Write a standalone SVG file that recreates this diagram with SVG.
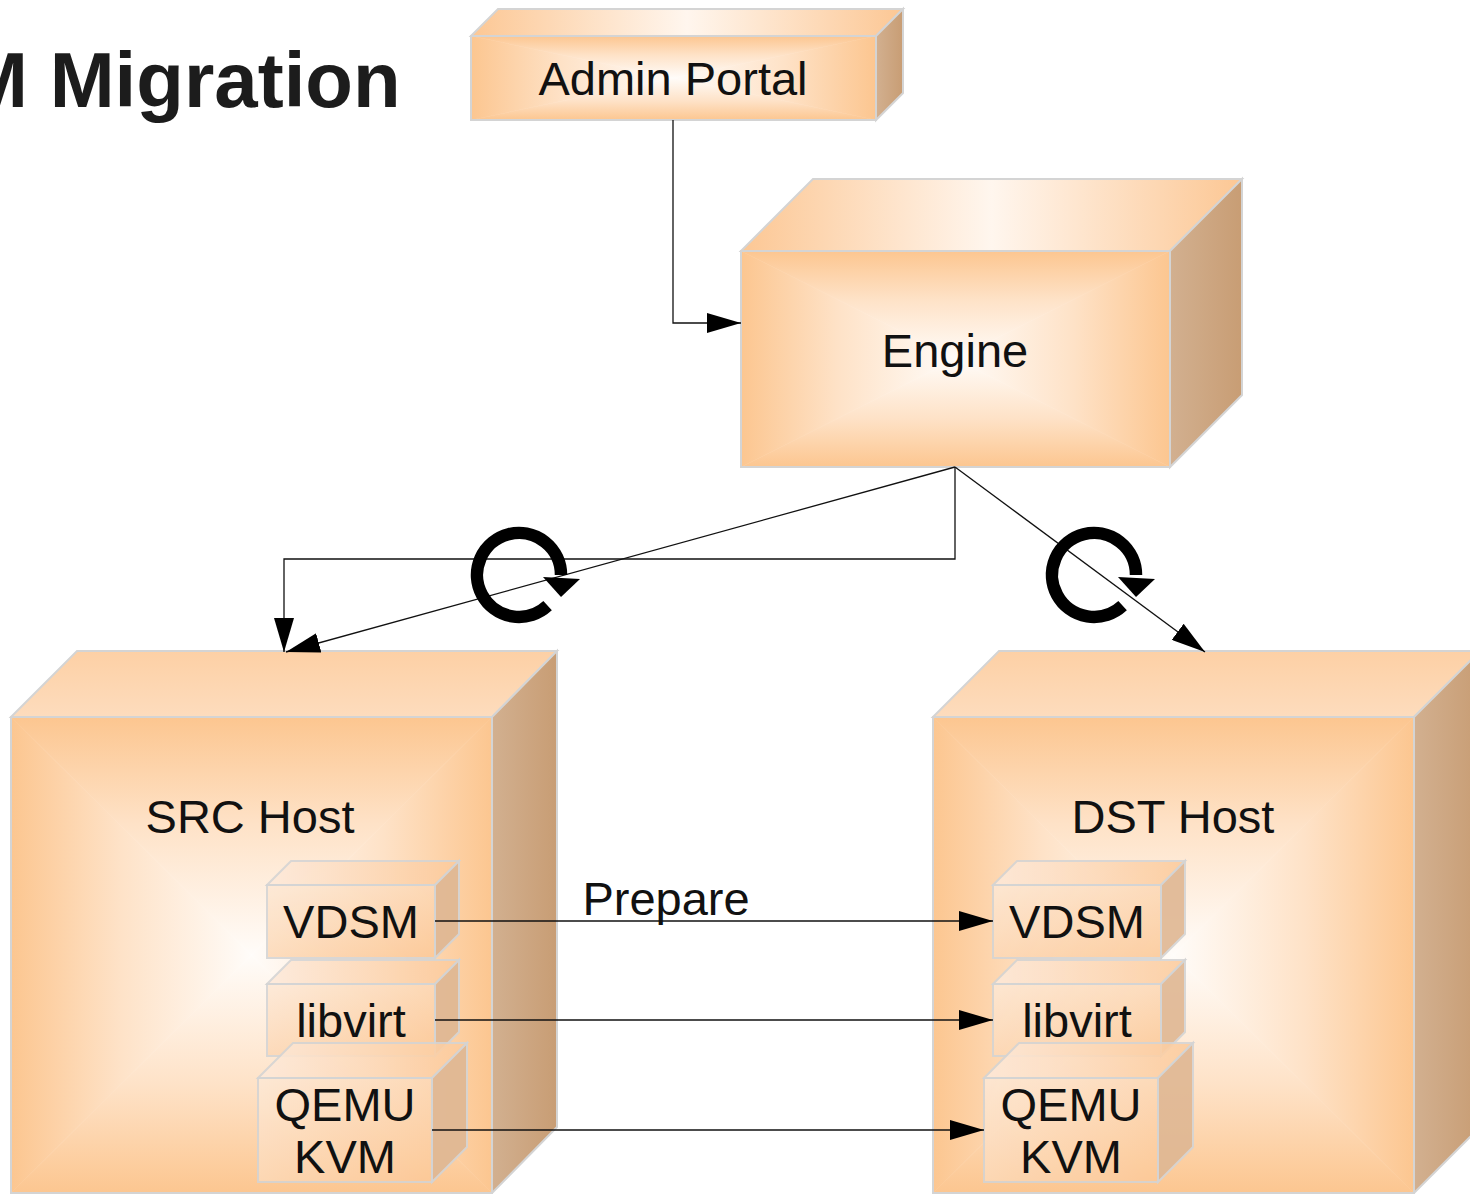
<svg xmlns="http://www.w3.org/2000/svg" width="1470" height="1194" viewBox="0 0 1470 1194">
<style>
.edge{stroke:#d4d4d4;stroke-width:2;stroke-linejoin:miter}
.side{fill:url(#gSide)}
.top{fill:url(#gTop)}
.top2{fill:url(#gTop2)}
.tl{fill:url(#gL);stroke:url(#gL);stroke-width:0.6}
.tr{fill:url(#gR);stroke:url(#gR);stroke-width:0.6}
.tt{fill:url(#gT);stroke:url(#gT);stroke-width:0.6}
.tb{fill:url(#gB);stroke:url(#gB);stroke-width:0.6}
.sfront{fill:url(#gSF);opacity:0.88}
.stop{fill:url(#gST);opacity:0.88}
.sside{fill:#dfb793;opacity:0.9}
.lbl{font-family:"Liberation Sans",Arial,sans-serif;font-size:47px;fill:#111;text-anchor:middle}
.title{font-family:"Liberation Sans",Arial,sans-serif;font-size:78px;font-weight:bold;fill:#1c1c1c}
.con{fill:none;stroke:#111;stroke-width:1.3}
</style>
<defs>
<linearGradient id="gL" x1="0" y1="0" x2="1" y2="0"><stop offset="0" stop-color="#fcc690"/><stop offset="0.45" stop-color="#fee2c7"/><stop offset="1" stop-color="#fffcf9"/></linearGradient>
<linearGradient id="gR" x1="0" y1="0" x2="1" y2="0"><stop offset="0" stop-color="#fffcf9"/><stop offset="0.55" stop-color="#fee2c7"/><stop offset="1" stop-color="#fcc690"/></linearGradient>
<linearGradient id="gT" x1="0" y1="0" x2="0" y2="1"><stop offset="0" stop-color="#fcc690"/><stop offset="0.45" stop-color="#fee2c7"/><stop offset="1" stop-color="#fffcf9"/></linearGradient>
<linearGradient id="gB" x1="0" y1="0" x2="0" y2="1"><stop offset="0" stop-color="#fffcf9"/><stop offset="0.55" stop-color="#fee2c7"/><stop offset="1" stop-color="#fcc690"/></linearGradient>
<linearGradient id="gSide" x1="0" y1="0" x2="1" y2="0">
<stop offset="0" stop-color="#d2b090"/>
<stop offset="1" stop-color="#c89d74"/>
</linearGradient>
<linearGradient id="gTop" x1="0" y1="0" x2="1" y2="0">
<stop offset="0" stop-color="#fcc794"/>
<stop offset="0.5" stop-color="#fff6ee"/>
<stop offset="1" stop-color="#fcc794"/>
</linearGradient>
<linearGradient id="gTop2" x1="0" y1="0" x2="0" y2="1">
<stop offset="0" stop-color="#fdd0a5"/>
<stop offset="1" stop-color="#fddcbd"/>
</linearGradient>
<linearGradient id="gSF" x1="0" y1="0" x2="1" y2="1">
<stop offset="0" stop-color="#fde9d6"/>
<stop offset="1" stop-color="#fcc998"/>
</linearGradient>
<linearGradient id="gST" x1="0" y1="0" x2="1" y2="0">
<stop offset="0" stop-color="#fdeadb"/>
<stop offset="1" stop-color="#fccb9c"/>
</linearGradient>
<marker id="arr" viewBox="0 0 34 20" markerWidth="34" markerHeight="20" refX="34" refY="10" orient="auto" markerUnits="userSpaceOnUse">
<path d="M0,0 L34,10 L0,20 z" fill="#000"/>
</marker>
<g id="rot">
<path d="M28.6,30.7 A42,42 0 1 1 42,0" fill="none" stroke="#000" stroke-width="12.5"/>
<path d="M24,2 L61,4 L42,22 z" fill="#000"/>
</g>
</defs>
<rect width="1470" height="1194" fill="#fff"/>

<text class="title" x="-37" y="107">M Migration</text>

<g id="admin-portal">
<polygon class="tt" points="471,36 876,36 673.5,78"/>
<polygon class="tb" points="471,120 876,120 673.5,78"/>
<polygon class="tl" points="471,36 471,120 673.5,78"/>
<polygon class="tr" points="876,36 876,120 673.5,78"/>
<rect class="edge" fill="none" x="471" y="36" width="405" height="84"/>
<polygon class="top edge" points="471,36 498,9 903,9 876,36"/>
<polygon class="side edge" points="876,36 903,9 903,93 876,120"/>
<text class="lbl" x="673" y="95">Admin Portal</text>
</g>

<g id="engine">
<polygon class="tt" points="741,251 1170,251 955.5,359"/>
<polygon class="tb" points="741,467 1170,467 955.5,359"/>
<polygon class="tl" points="741,251 741,467 955.5,359"/>
<polygon class="tr" points="1170,251 1170,467 955.5,359"/>
<rect class="edge" fill="none" x="741" y="251" width="429" height="216"/>
<polygon class="top edge" points="741,251 813,179 1242,179 1170,251"/>
<polygon class="side edge" points="1170,251 1242,179 1242,395 1170,467"/>
<text class="lbl" x="955" y="367">Engine</text>
</g>

<g id="src-host">
<polygon class="tt" points="11,717 492,717 251.5,955"/>
<polygon class="tb" points="11,1193 492,1193 251.5,955"/>
<polygon class="tl" points="11,717 11,1193 251.5,955"/>
<polygon class="tr" points="492,717 492,1193 251.5,955"/>
<rect class="edge" fill="none" x="11" y="717" width="481" height="476"/>
<polygon class="top2 edge" points="11,717 77,651 557,651 492,717"/>
<polygon class="side edge" points="492,717 557,651 557,1127 492,1193"/>
<text class="lbl" x="250" y="833">SRC Host</text>
</g>

<g id="src-vdsm">
<rect class="sfront edge" x="267" y="885" width="168" height="73"/>
<polygon class="stop edge" points="267,885 291,861 459,861 435,885"/>
<polygon class="sside edge" points="435,885 459,861 459,934 435,958"/>
<text class="lbl" x="351" y="938">VDSM</text>
</g>
<g id="src-libvirt">
<rect class="sfront edge" x="267" y="984" width="168" height="72"/>
<polygon class="stop edge" points="267,984 291,960 459,960 435,984"/>
<polygon class="sside edge" points="435,984 459,960 459,1032 435,1056"/>
<text class="lbl" x="351" y="1037">libvirt</text>
</g>
<g id="src-qemu">
<rect class="sfront edge" x="258" y="1078" width="174" height="104"/>
<polygon class="stop edge" points="258,1078 293,1043 467,1043 432,1078"/>
<polygon class="sside edge" points="432,1078 467,1043 467,1147 432,1182"/>
<text class="lbl" x="345" y="1121">QEMU</text>
<text class="lbl" x="345" y="1173">KVM</text>
</g>

<g id="dst-host">
<polygon class="tt" points="933,717 1414,717 1173.5,955"/>
<polygon class="tb" points="933,1193 1414,1193 1173.5,955"/>
<polygon class="tl" points="933,717 933,1193 1173.5,955"/>
<polygon class="tr" points="1414,717 1414,1193 1173.5,955"/>
<rect class="edge" fill="none" x="933" y="717" width="481" height="476"/>
<polygon class="top2 edge" points="933,717 999,651 1480,651 1414,717"/>
<polygon class="side edge" points="1414,717 1480,651 1480,1127 1414,1193"/>
<text class="lbl" x="1173" y="833">DST Host</text>
</g>

<g id="dst-vdsm">
<rect class="sfront edge" x="993" y="885" width="168" height="73"/>
<polygon class="stop edge" points="993,885 1017,861 1185,861 1161,885"/>
<polygon class="sside edge" points="1161,885 1185,861 1185,934 1161,958"/>
<text class="lbl" x="1077" y="938">VDSM</text>
</g>
<g id="dst-libvirt">
<rect class="sfront edge" x="993" y="984" width="168" height="72"/>
<polygon class="stop edge" points="993,984 1017,960 1185,960 1161,984"/>
<polygon class="sside edge" points="1161,984 1185,960 1185,1032 1161,1056"/>
<text class="lbl" x="1077" y="1037">libvirt</text>
</g>
<g id="dst-qemu">
<rect class="sfront edge" x="984" y="1078" width="174" height="104"/>
<polygon class="stop edge" points="984,1078 1019,1043 1193,1043 1158,1078"/>
<polygon class="sside edge" points="1158,1078 1193,1043 1193,1147 1158,1182"/>
<text class="lbl" x="1071" y="1121">QEMU</text>
<text class="lbl" x="1071" y="1173">KVM</text>
</g>

<g id="connectors">
<polyline class="con" points="673,120 673,323 741,323" marker-end="url(#arr)"/>
<polyline class="con" points="955,467 955,559 284,559 284,652" marker-end="url(#arr)"/>
<line class="con" x1="955" y1="467" x2="286" y2="652" marker-end="url(#arr)"/>
<line class="con" x1="955" y1="467" x2="1205" y2="652" marker-end="url(#arr)"/>
<line class="con" x1="435" y1="921" x2="993" y2="921" marker-end="url(#arr)"/>
<line class="con" x1="435" y1="1020" x2="993" y2="1020" marker-end="url(#arr)"/>
<line class="con" x1="432" y1="1130" x2="984" y2="1130" marker-end="url(#arr)"/>
<text class="lbl" x="666" y="915">Prepare</text>
</g>

<g id="rotate-left"><use href="#rot" x="519" y="575"/></g>
<g id="rotate-right"><use href="#rot" x="1094" y="575"/></g>
</svg>
